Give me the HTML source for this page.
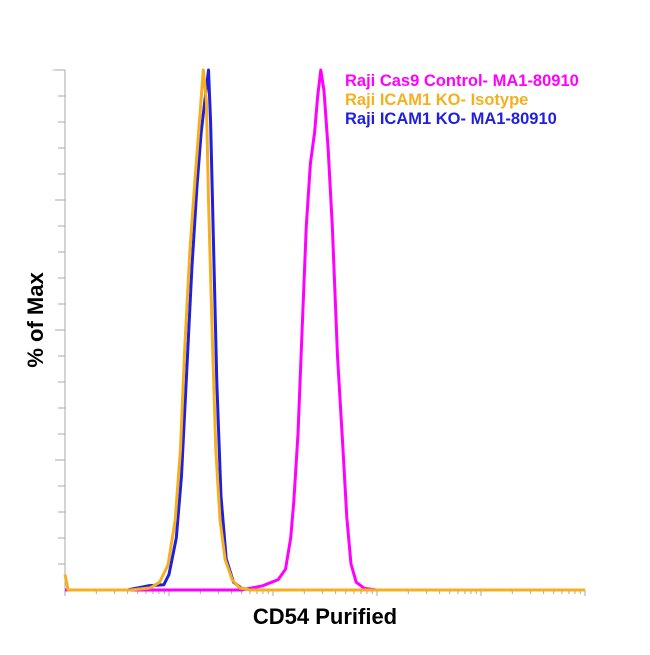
<!DOCTYPE html>
<html><head><meta charset="utf-8"><style>
body{margin:0;background:#fff;}
svg text{font-family:"Liberation Sans",Arial,sans-serif;font-weight:bold;}
</style></head><body>
<svg id="chart" width="650" height="650" viewBox="0 0 650 650" xmlns="http://www.w3.org/2000/svg">
<g id="axes"></g>
<g id="series"></g>
<text x="0" y="0" transform="translate(43,320) rotate(-90)" text-anchor="middle" font-size="22" fill="#000">% of Max</text>
<text x="325" y="624" text-anchor="middle" font-size="22" fill="#000">CD54 Purified</text>
<text x="345" y="86" font-size="16.5" fill="#ff00ff">Raji Cas9 Control- MA1-80910</text>
<text x="345" y="105" font-size="16.5" fill="#f5b021">Raji ICAM1 KO- Isotype</text>
<text x="345" y="124" font-size="16.5" fill="#1f1fe0">Raji ICAM1 KO- MA1-80910</text>
</svg>
<script>
const magentaX=[0,1.7,1.9,2.05,2.12,2.17,2.20,2.24,2.28,2.32,2.36,2.40,2.43,2.46,2.49,2.53,2.57,2.62,2.67,2.71,2.75,2.80,2.88,3.0,5];
const magentaY=[0,0,0.8,2,4,10,17,30,50,70,82,88,95,100,96,85,70,45,28,14,5,1.5,0.3,0,0];
const blueX=[0.6,0.8,0.95,1.0,1.07,1.12,1.17,1.22,1.27,1.31,1.35,1.38,1.40,1.43,1.46,1.50,1.55,1.62,1.70,1.8,5];
const blueY=[0,0.8,1,3,10,22,42,62,78,88,95,100,90,65,40,18,6,1.5,0.3,0,0];
const orangeX=[0,0.03,0.63,0.82,0.91,0.99,1.06,1.11,1.15,1.20,1.25,1.30,1.33,1.36,1.38,1.42,1.45,1.49,1.54,1.61,1.68,1.78,5];
const orangeY=[3,0,0,0.4,1.5,4.8,13.5,26.9,46,65,79,92,100,94,75,46,27,13.5,5.8,1.9,0.4,0,0];
const yTickCount=20;
const xDecades=5;

const L=65,R=585,T=70,B=590;
const xs=v=>L+v/xDecades*(R-L);
const ys=v=>B-v/100*(B-T);
const NS="http://www.w3.org/2000/svg";
const axes=document.getElementById('axes');
function line(x1,y1,x2,y2,c,w,name){const l=document.createElementNS(NS,'line');
l.setAttribute('x1',x1);l.setAttribute('y1',y1);l.setAttribute('x2',x2);l.setAttribute('y2',y2);
l.setAttribute('stroke',c);l.setAttribute('stroke-width',w);


axes.appendChild(l);}
line(L,T,L,B,'#aaa',1,'y-axis-line');
line(L,B,R,B,'#aaa',1,'x-axis-line');
line(52,T,L,T,'#ccc',1,'y-axis-top-cap');
for(let i=1;i<=yTickCount;i++){const y=B-i*(B-T)/yTickCount;line(i%5===0?55:58,y,L,y,'#aaa',1,'y-tick');}
for(let d=0;d<xDecades;d++){for(let k=1;k<=9;k++){const x=xs(d+Math.log10(k));line(x,B,x,B+(k===1?6:4),'#aaa',1,'x-tick');}}
line(R,B,R,B+6,'#aaa',1,'x-tick');
const series=document.getElementById('series');
function path(X,Y,c,name){const p=document.createElementNS(NS,'path');
p.setAttribute('d',X.map((x,i)=>(i?'L':'M')+xs(x).toFixed(1)+','+ys(Y[i]).toFixed(1)).join(''));
p.setAttribute('fill','none');p.setAttribute('stroke',c);p.setAttribute('stroke-width',3);p.setAttribute('stroke-linejoin','round');


series.appendChild(p);}
path(magentaX,magentaY,'#ff00ff','cas9-control-curve');
path(blueX,blueY,'#1f1fe0','icam1-ko-ma1-curve');
path(orangeX,orangeY,'#f5b021','icam1-ko-isotype-curve');
</script>
</body></html>
